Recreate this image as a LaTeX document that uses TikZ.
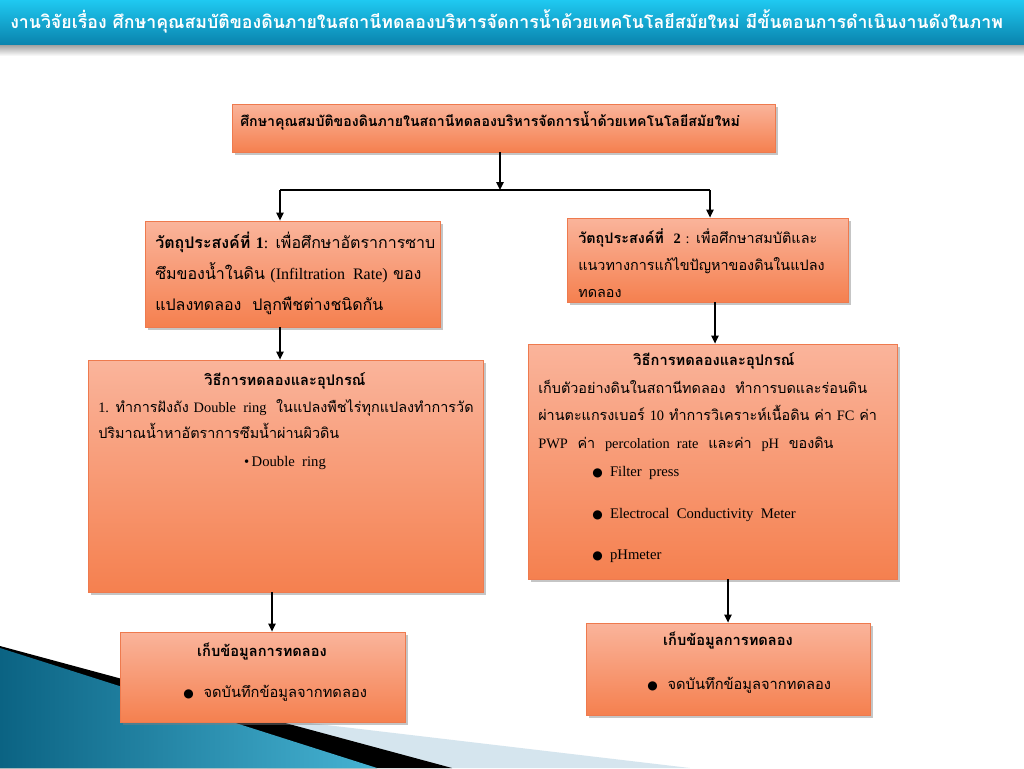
\documentclass[tikz,border=0pt]{standalone}
\usepackage{fontspec}
\setmainfont[Script=Thai]{Loma}
\newfontfamily\en{Liberation Serif}
\newfontfamily\dv{DejaVu Sans}
\usetikzlibrary{shadows,fit,arrows.meta}
\definecolor{bartop}{HTML}{1FC9F1}
\definecolor{barbot}{HTML}{0A84AE}
\definecolor{boxtop}{HTML}{FAB49B}
\definecolor{boxbot}{HTML}{F5804F}
\definecolor{boxedge}{HTML}{EE7A4E}
\definecolor{tealA}{HTML}{0B6383}
\definecolor{tealB}{HTML}{46B3D3}
\definecolor{pale}{HTML}{D5E5EE}
\newcommand\bigbul{{\dv\fontsize{9}{9}\selectfont ●}}
\begin{document}
\begin{tikzpicture}[x=0.75pt,y=-0.75pt,
  box/.style={draw=boxedge, line width=0.6pt, top color=boxtop, bottom color=boxbot, inner sep=0pt,
    drop shadow={shadow xshift=2pt,shadow yshift=-2.5pt,opacity=.45}},
  arr/.style={-{Triangle[length=6pt,width=5.5pt]}, line width=1.1pt},
  ln/.style={line width=1.1pt},
  txt/.style={inner sep=0pt, align=left, anchor=base west},
  ctr/.style={inner sep=0pt, anchor=base},
]
\useasboundingbox (0,0) rectangle (1024,768);
\fill[white] (0,0) rectangle (1024,768);
% title bar
\fill[top color=black!40, bottom color=white] (0,44) rectangle (1024,56);
\fill[top color=bartop, bottom color=barbot] (0,0) rectangle (1024,44);
\node[inner sep=0pt, anchor=base west, text=white, font=\bfseries\fontsize{13.3}{13.3}\selectfont] (title) at (10,28)
  {งานวิจัยเรื่อง ศึกษาคุณสมบัติของดินภายในสถานีทดลองบริหารจัดการน้ำด้วยเทคโนโลยีสมัยใหม่ มีขั้นตอนการดำเนินงานดังในภาพ};
% decoration
\fill[pale] (267,718) -- (690,768) -- (267,768) -- cycle;
\fill[black] (0,646) -- (452,768) -- (0,768) -- cycle;
\fill[left color=tealA, right color=tealB] (0,648) -- (377,768) -- (0,768) -- cycle;
% boxes
\node[box, fit={(232,104) (775,152)}] (top) {};
\node[box, fit={(145,221) (440,327)}] (obj1) {};
\node[box, fit={(567,218) (848,302)}] (obj2) {};
\node[box, fit={(88,360) (483,592)}] (meth1) {};
\node[box, fit={(528,344) (897,579)}] (meth2) {};
\node[box, fit={(120,632) (405,722)}] (res1) {};
\node[box, fit={(586,623) (870,715)}] (res2) {};
% connectors
\coordinate (sp) at (500,190);
\coordinate (spL) at (280,190);
\coordinate (spR) at (710,190);
\draw[arr] (top.south -| sp) -- (sp);
\draw[ln] (spL) -- (spR);
\draw[arr] (spL) -- (spL |- obj1.north);
\draw[arr] (spR) -- (spR |- obj2.north);
\coordinate (cLa) at (280,0);
\coordinate (cLb) at (272,0);
\coordinate (cRa) at (715,0);
\coordinate (cRb) at (728,0);
\draw[arr] (obj1.south -| cLa) -- (meth1.north -| cLa);
\draw[arr] (meth1.south -| cLb) -- (res1.north -| cLb);
\draw[arr] (obj2.south -| cRa) -- (meth2.north -| cRa);
\draw[arr] (meth2.south -| cRb) -- (res2.north -| cRb);
% texts
\node[txt, font=\bfseries\fontsize{10.6}{10.6}\selectfont] (ttop) at (240,126)
  {ศึกษาคุณสมบัติของดินภายในสถานีทดลองบริหารจัดการน้ำด้วยเทคโนโลยีสมัยใหม่};
\node[txt, font=\fontsize{12}{22.9}\selectfont] (tobj1) at (155,310)
  {{\bfseries วัตถุประสงค์ที่ {\en 1}}{\en :} เพื่อศึกษาอัตราการซาบ\\
   ซึมของน้ำในดิน {\en (Infiltration\ \ Rate)} ของ\\
   แปลงทดลอง\ \ ปลูกพืชต่างชนิดกัน};
\node[txt, font=\fontsize{10.8}{20.25}\selectfont] (tobj2) at (578,297)
  {{\bfseries วัตถุประสงค์ที่\ \ {\en 2}} {\en :} เพื่อศึกษาสมบัติและ\\
   แนวทางการแก้ไขปัญหาของดินในแปลง\\
   ทดลอง};
\node[ctr, font=\bfseries\fontsize{11}{11}\selectfont] (tm1h) at (285,385) {วิธีการทดลองและอุปกรณ์};
\node[txt, font=\fontsize{10.8}{19.5}\selectfont] (tm1) at (98,438)
  {{\en 1.} ทำการฝังถัง {\en Double\ \ ring}\ \ ในแปลงพืชไร่ทุกแปลงทำการวัด\\
   ปริมาณน้ำหาอัตราการซึมน้ำผ่านผิวดิน};
\node[ctr, font=\en\fontsize{11}{11}\selectfont] (tm1b) at (285,466) {•\,Double\ \ ring};
\node[ctr, font=\bfseries\fontsize{11}{11}\selectfont] (tm2h) at (714,365) {วิธีการทดลองและอุปกรณ์};
\node[txt, font=\fontsize{10.8}{20.6}\selectfont] (tm2) at (538,448)
  {เก็บตัวอย่างดินในสถานีทดลอง\ \ ทำการบดและร่อนดิน\\
   ผ่านตะแกรงเบอร์ {\en 10} ทำการวิเคราะห์เนื้อดิน ค่า {\en FC} ค่า\\
   {\en PWP}\ \ ค่า\ \ {\en percolation\ \ rate}\ \ และค่า\ \ {\en pH}\ \ ของดิน};
\node[txt, font=\en\fontsize{11}{11}\selectfont] (tb1) at (592,476) {\bigbul\ \ Filter\ \ press};
\node[txt, font=\en\fontsize{11}{11}\selectfont] (tb2) at (592,518) {\bigbul\ \ Electrocal\ \ Conductivity\ \ Meter};
\node[txt, font=\en\fontsize{11}{11}\selectfont] (tb3) at (592,559) {\bigbul\ \ pHmeter};
\node[ctr, font=\bfseries\fontsize{11}{11}\selectfont] (tr1h) at (262,656) {เก็บข้อมูลการทดลอง};
\node[txt, font=\fontsize{11}{11}\selectfont] (tr1) at (183,697) {\bigbul\ \ จดบันทึกข้อมูลจากทดลอง};
\node[ctr, font=\bfseries\fontsize{11}{11}\selectfont] (tr2h) at (728,645) {เก็บข้อมูลการทดลอง};
\node[txt, font=\fontsize{11}{11}\selectfont] (tr2) at (647,689) {\bigbul\ \ จดบันทึกข้อมูลจากทดลอง};
\end{tikzpicture}
\end{document}
